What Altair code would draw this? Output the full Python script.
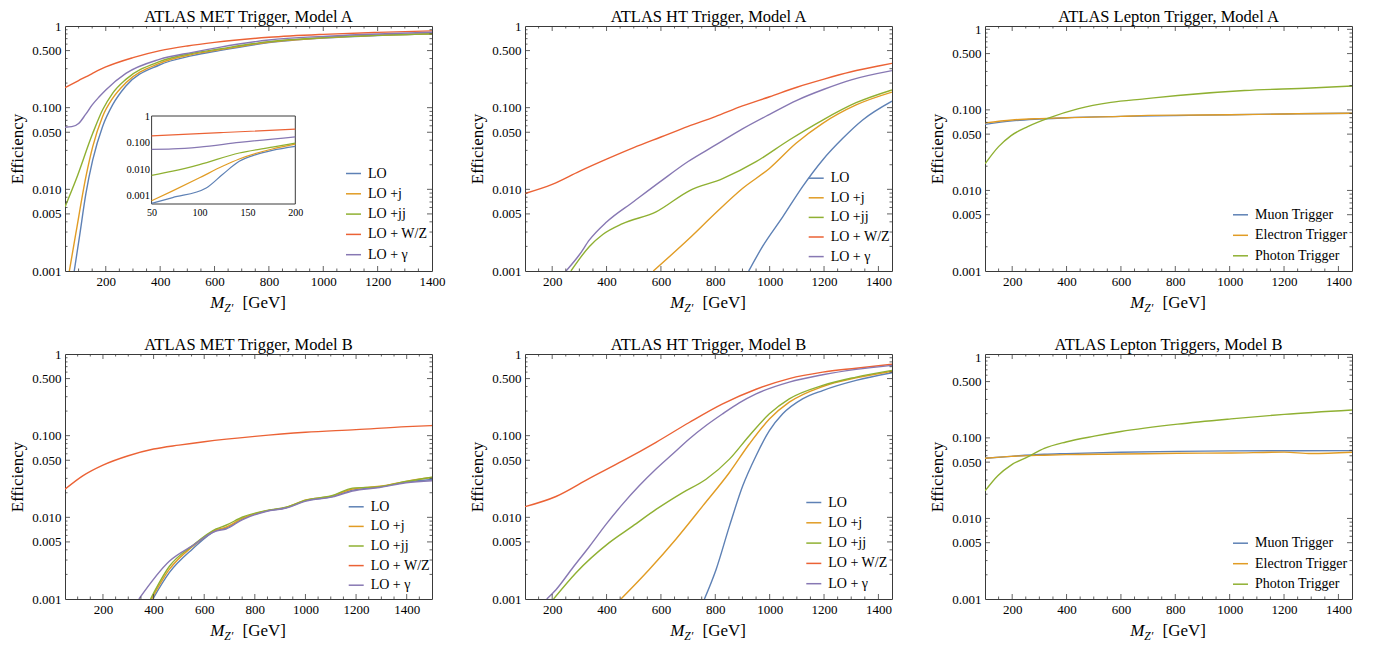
import altair as alt
import pandas as pd

FONT = "Liberation Serif"
W, H = 367, 245
FRAME = "#3a3a3a"

SERIES5 = ["LO", "LO +j", "LO +jj", "LO + W/Z", "LO + γ"]
COLORS5 = ["#5E81B5", "#E19C24", "#8FB032", "#EB6235", "#8778B3"]
SERIES3 = ["Muon Trigger", "Electron Trigger", "Photon Trigger"]
COLORS3 = ["#5E81B5", "#E19C24", "#8FB032"]

Y_LABELS = [0.001, 0.005, 0.01, 0.05, 0.1, 0.5, 1]
Y_MINOR = [0.002, 0.003, 0.004, 0.006, 0.007, 0.008, 0.009,
           0.02, 0.03, 0.04, 0.06, 0.07, 0.08, 0.09,
           0.2, 0.3, 0.4, 0.6, 0.7, 0.8, 0.9]
X_LABELS = [200, 400, 600, 800, 1000, 1200, 1400]
X_MINOR = [50, 100, 150, 250, 300, 350, 450, 500, 550, 650, 700, 750, 850, 900,
           950, 1050, 1100, 1150, 1250, 1300, 1350, 1450, 1500]
INSET_X_LABELS = [50, 100, 150, 200]
INSET_Y_LABELS = [0.001, 0.01, 0.1, 1]

# ---------------- MET trigger, model A ----------------
META_LO_M = [84, 103, 127, 152, 188, 225, 274, 397, 519, 617, 800, 1000, 1200, 1400]
META_LO_E = [0.001, 0.0026, 0.0089, 0.0229, 0.0585, 0.108, 0.184, 0.333, 0.433, 0.50, 0.625, 0.71, 0.765, 0.80]
META_J_M = [66, 90, 127, 152, 188, 225, 274, 397, 519, 617, 800, 1000, 1200, 1400]
META_J_E = [0.001, 0.0029, 0.0143, 0.0333, 0.0776, 0.13, 0.202, 0.349, 0.45, 0.51, 0.636, 0.715, 0.77, 0.805]
META_JJ_M = [50, 90, 152, 188, 225, 274, 397, 519, 617, 800, 1000, 1200, 1400]
META_JJ_E = [0.0061, 0.013, 0.0485, 0.0936, 0.15, 0.222, 0.366, 0.463, 0.523, 0.643, 0.72, 0.77, 0.805]
META_WZ_M = [50, 100, 150, 200, 300, 400, 500, 600, 800, 1000, 1200, 1400]
META_WZ_E = [0.176, 0.215, 0.262, 0.315, 0.41, 0.50, 0.57, 0.63, 0.727, 0.79, 0.836, 0.872]
META_G_M = [50, 75, 100, 125, 150, 175, 200, 274, 397, 519, 617, 800, 1000, 1200, 1400]
META_G_E = [0.0575, 0.0585, 0.064, 0.082, 0.108, 0.135, 0.165, 0.263, 0.39, 0.476, 0.548, 0.674, 0.747, 0.798, 0.84]

# inset of MET, model A (50-200 GeV)
INS_LO_M = [50, 72, 107, 124, 141.5, 159, 176, 200]
INS_LO_E = [0.00053, 0.00087, 0.0020, 0.0064, 0.020, 0.0355, 0.051, 0.072]
INS_J_M = [50, 72, 100, 124, 141.5, 176, 200]
INS_J_E = [0.00066, 0.00155, 0.0048, 0.013, 0.0245, 0.058, 0.088]
INS_JJ_M = [50, 72, 100, 141.5, 176, 200]
INS_JJ_E = [0.0059, 0.0085, 0.015, 0.041, 0.068, 0.096]
INS_WZ_M = [50, 125, 200]
INS_WZ_E = [0.18, 0.24, 0.32]
INS_G_M = [50, 72, 100, 141.5, 200]
INS_G_E = [0.056, 0.058, 0.068, 0.102, 0.166]

# ---------------- HT trigger, model A ----------------
HTA_LO_M = [923, 974, 1048, 1121, 1195, 1269, 1342, 1450]
HTA_LO_E = [0.001, 0.002, 0.0046, 0.0108, 0.0229, 0.0421, 0.0706, 0.12]
HTA_J_M = [572, 704, 803, 901, 999, 1097, 1195, 1318, 1450]
HTA_J_E = [0.001, 0.0025, 0.0052, 0.0103, 0.018, 0.0366, 0.0643, 0.108, 0.155]
HTA_JJ_M = [269, 337, 386, 459, 582, 704, 827, 950, 1072, 1195, 1318, 1450]
HTA_JJ_E = [0.001, 0.002, 0.0028, 0.0038, 0.0053, 0.0096, 0.0135, 0.0218, 0.0402, 0.0706, 0.115, 0.165]
HTA_WZ_M = [100, 200, 300, 400, 500, 600, 700, 800, 900, 1000, 1100, 1200, 1300, 1400, 1450]
HTA_WZ_E = [0.0089, 0.0115, 0.0166, 0.0234, 0.0324, 0.0437, 0.0589, 0.0776, 0.105, 0.136, 0.178, 0.224,
            0.275, 0.324, 0.349]
HTA_G_M = [251, 300, 337, 400, 500, 600, 700, 800, 900, 1000, 1100, 1200, 1300, 1450]
HTA_G_E = [0.001, 0.00158, 0.0024, 0.00398, 0.0071, 0.0126, 0.0219, 0.0347, 0.055, 0.083, 0.123, 0.168,
           0.219, 0.284]

# ---------------- Lepton triggers, model A ----------------
LEPA_MU_M = [100, 200, 300, 400, 600, 800, 1000, 1200, 1450]
LEPA_MU_E = [0.066, 0.073, 0.077, 0.080, 0.083, 0.085, 0.087, 0.089, 0.091]
LEPA_EL_M = [100, 200, 300, 400, 600, 700, 800, 1000, 1200, 1450]
LEPA_EL_E = [0.069, 0.075, 0.078, 0.080, 0.083, 0.0855, 0.086, 0.087, 0.089, 0.091]
LEPA_PH_M = [100, 150, 196, 257, 336, 441, 563, 686, 809, 1054, 1299, 1450]
LEPA_PH_E = [0.0214, 0.035, 0.048, 0.062, 0.0796, 0.103, 0.124, 0.137, 0.151, 0.174, 0.187, 0.198]

# ---------------- MET trigger, model B ----------------
METB_LO_M = [397, 462, 554, 647, 686, 752, 844, 923, 1002, 1107, 1186, 1293, 1397, 1500]
METB_LO_E = [0.001, 0.0021, 0.0041, 0.0069, 0.0074, 0.0096, 0.0119, 0.0131, 0.016, 0.018, 0.0215, 0.0235, 0.027, 0.029]
METB_J_M = [392, 462, 554, 647, 686, 752, 844, 923, 1002, 1107, 1186, 1293, 1397, 1500]
METB_J_E = [0.001, 0.0023, 0.0044, 0.0070, 0.0076, 0.0098, 0.0120, 0.0132, 0.0163, 0.0183, 0.0222, 0.024, 0.0276, 0.0307]
METB_JJ_M = [388, 462, 554, 647, 686, 752, 844, 923, 1002, 1107, 1186, 1293, 1397, 1500]
METB_JJ_E = [0.001, 0.0025, 0.0045, 0.0072, 0.0080, 0.0101, 0.0121, 0.0133, 0.0162, 0.0185, 0.0228, 0.0238, 0.0275, 0.031]
METB_WZ_M = [50, 120, 200, 300, 400, 500, 600, 800, 1000, 1200, 1400, 1500]
METB_WZ_E = [0.0221, 0.0322, 0.0436, 0.0568, 0.0686, 0.0767, 0.0844, 0.098, 0.11, 0.1185, 0.129, 0.133]
METB_G_M = [342, 462, 554, 647, 686, 752, 844, 923, 1002, 1107, 1186, 1293, 1397, 1500]
METB_G_E = [0.001, 0.0029, 0.0045, 0.0068, 0.0072, 0.0094, 0.0118, 0.0130, 0.0158, 0.0178, 0.021, 0.0232, 0.0265, 0.028]

# ---------------- HT trigger, model B ----------------
HTB_LO_M = [760, 803, 852, 901, 950, 999, 1048, 1121, 1195, 1318, 1450]
HTB_LO_E = [0.001, 0.0023, 0.0078, 0.0243, 0.0568, 0.115, 0.185, 0.282, 0.357, 0.475, 0.589]
HTB_J_M = [453, 557, 655, 754, 852, 925, 999, 1072, 1195, 1318, 1450]
HTB_J_E = [0.001, 0.0023, 0.0054, 0.0138, 0.0354, 0.079, 0.16, 0.257, 0.40, 0.51, 0.615]
HTB_JJ_M = [205, 288, 410, 496, 582, 680, 766, 852, 925, 999, 1072, 1195, 1318, 1450]
HTB_JJ_E = [0.001, 0.0021, 0.0049, 0.0078, 0.0125, 0.0201, 0.0293, 0.0516, 0.1, 0.185, 0.282, 0.412, 0.521, 0.63]
HTB_WZ_M = [100, 214, 337, 459, 582, 704, 827, 950, 1072, 1195, 1318, 1450]
HTB_WZ_E = [0.0135, 0.018, 0.030, 0.049, 0.083, 0.145, 0.245, 0.37, 0.50, 0.60, 0.67, 0.75]
HTB_G_M = [180, 214, 275, 337, 398, 459, 520, 582, 643, 704, 766, 827, 888, 950, 1072, 1195, 1318, 1450]
HTB_G_E = [0.001, 0.0013, 0.0024, 0.0044, 0.0082, 0.0145, 0.0243, 0.039, 0.0595, 0.091, 0.133, 0.185,
           0.252, 0.325, 0.453, 0.557, 0.648, 0.726]

# ---------------- Lepton triggers, model B ----------------
LEPB_MU_M = [100, 196, 318, 398, 600, 809, 1005, 1450]
LEPB_MU_E = [0.0558, 0.059, 0.0626, 0.0638, 0.0663, 0.068, 0.0689, 0.0695]
LEPB_EL_M = [100, 196, 318, 398, 600, 809, 1005, 1201, 1300, 1450]
LEPB_EL_E = [0.0558, 0.059, 0.061, 0.062, 0.063, 0.0645, 0.065, 0.0665, 0.064, 0.0663]
LEPB_PH_M = [100, 147, 196, 257, 318, 398, 502, 600, 809, 1005, 1201, 1450]
LEPB_PH_E = [0.022, 0.034, 0.046, 0.058, 0.074, 0.089, 0.105, 0.12, 0.148, 0.172, 0.196, 0.222]

LABEL_EXPR = "datum.value >= 0.999 ? '1' : format(datum.value, '.3f')"


def series_frame(names, pairs):
    rows = []
    for name, (ms, es) in zip(names, pairs):
        for m, e in zip(ms, es):
            rows.append({"M": m, "eff": e, "series": name})
    return pd.DataFrame(rows)


def tick_layers(xs, ys, xdom, ydom):
    # inward frame ticks (no axis=None here: it would disable the shared axis)
    layers = []
    for vals, ln in ((Y_LABELS, 5), (Y_MINOR, 2.5)):
        d = pd.DataFrame({"eff": [v for v in vals if ydom[0] < v < ydom[1]]})
        for x0, x1 in ((0, ln), (W, W - ln)):
            layers.append(alt.Chart(d).mark_rule(color=FRAME, strokeWidth=0.8).encode(
                y=alt.Y("eff:Q", scale=ys), x=alt.value(x0), x2=alt.value(x1)))
    for vals, ln in ((X_LABELS, 5), (X_MINOR, 2.5)):
        d = pd.DataFrame({"M": [v for v in vals if xdom[0] < v < xdom[1]]})
        for y0, y1 in ((H, H - ln), (0, ln)):
            layers.append(alt.Chart(d).mark_rule(color=FRAME, strokeWidth=0.8).encode(
                x=alt.X("M:Q", scale=xs), y=alt.value(y0), y2=alt.value(y1)))
    return layers


def xtitle_layers():
    parts = [("M", 145.3, H + 37, 17, "italic"),
             ("Z′", 159.3, H + 40.5, 11.5, "italic"),
             ("[GeV]", 177.5, H + 37, 17, "normal")]
    out = []
    for txt, x, y, size, style in parts:
        out.append(alt.Chart(pd.DataFrame({"t": [txt]})).mark_text(
            font=FONT, fontSize=size, fontStyle=style, align="left", baseline="alphabetic",
            color="black").encode(text="t:N", x=alt.value(x), y=alt.value(y)))
    return out


def panel(title, df, names, colors, xdom, ydom, leg_x, leg_y, row_pad, title_off, inset_df=None):
    xs = alt.Scale(domain=xdom, nice=False, zero=False)
    ys = alt.Scale(type="log", domain=ydom, nice=False)
    cscale = alt.Scale(domain=names, range=colors)
    lines = alt.Chart(df).mark_line(strokeWidth=1.4, interpolate="monotone", clip=True).encode(
        x=alt.X("M:Q", scale=xs, axis=alt.Axis(values=X_LABELS, format="d", labelFlush=False, labelPadding=4,
                                               labelOverlap=False, title=None)),
        y=alt.Y("eff:Q", scale=ys, axis=alt.Axis(values=Y_LABELS, labelExpr=LABEL_EXPR, labelPadding=4,
                                                 labelOverlap=False, title="Efficiency", titleX=-48,
                                                 titleY=H / 2, titleAngle=-90, titleAlign="center",
                                                 titleBaseline="middle")),
        color=alt.Color("series:N", scale=cscale, sort=names, legend=alt.Legend(
            title=None, orient="none", legendX=leg_x, legendY=leg_y, symbolType="stroke",
            symbolSize=225, symbolStrokeWidth=1.5, labelFont=FONT, labelFontSize=14,
            labelColor="black", rowPadding=row_pad, padding=0, labelOffset=6)),
    )
    main = alt.layer(lines, *tick_layers(xs, ys, xdom, ydom), *xtitle_layers())
    if inset_df is not None:
        ixs = alt.Scale(domain=[50, 200], range=[86.6, 230.3], nice=False, zero=False)
        iys = alt.Scale(type="log", domain=[0.0005, 1], range=[178, 90], nice=False)
        box = alt.Chart(pd.DataFrame({"M": [50], "M2": [200], "eff": [0.0005], "eff2": [1.0]})).mark_rect(
            fill="white", stroke=FRAME, strokeWidth=1).encode(
            x=alt.X("M:Q", scale=ixs, axis=alt.Axis(orient="bottom", offset=-(H - 178),
                                                     values=INSET_X_LABELS, labelFlush=False,
                                                     labelFontSize=10, labelPadding=3, title=None,
                                                     labelOverlap=False)),
            x2="M2:Q",
            y=alt.Y("eff:Q", scale=iys, axis=alt.Axis(orient="left", offset=-86.6, values=INSET_Y_LABELS,
                                                       labelExpr=LABEL_EXPR, labelFontSize=10.5,
                                                       labelPadding=2, title=None, labelOverlap=False)),
            y2="eff2:Q",
        )
        ilines = alt.Chart(inset_df).mark_line(strokeWidth=1.2, interpolate="monotone").encode(
            x=alt.X("M:Q", scale=ixs),
            y=alt.Y("eff:Q", scale=iys),
            color=alt.Color("series:N", scale=cscale, sort=names, legend=None),
        )
        inset = alt.layer(box, ilines)
        ch = alt.layer(main, inset).resolve_scale(x="independent", y="independent")
    else:
        ch = main
    return ch.properties(
        width=W, height=H,
        title=alt.TitleParams(title, font=FONT, fontSize=16.5, fontWeight="normal", color="black",
                              anchor="middle", frame="group", offset=title_off),
    )


df_meta = series_frame(SERIES5, [(META_LO_M, META_LO_E), (META_J_M, META_J_E), (META_JJ_M, META_JJ_E),
                                 (META_WZ_M, META_WZ_E), (META_G_M, META_G_E)])
df_ins = series_frame(SERIES5, [(INS_LO_M, INS_LO_E), (INS_J_M, INS_J_E), (INS_JJ_M, INS_JJ_E),
                                (INS_WZ_M, INS_WZ_E), (INS_G_M, INS_G_E)])
df_hta = series_frame(SERIES5, [(HTA_LO_M, HTA_LO_E), (HTA_J_M, HTA_J_E), (HTA_JJ_M, HTA_JJ_E),
                                (HTA_WZ_M, HTA_WZ_E), (HTA_G_M, HTA_G_E)])
df_lepa = series_frame(SERIES3, [(LEPA_MU_M, LEPA_MU_E), (LEPA_EL_M, LEPA_EL_E), (LEPA_PH_M, LEPA_PH_E)])
df_metb = series_frame(SERIES5, [(METB_LO_M, METB_LO_E), (METB_J_M, METB_J_E), (METB_JJ_M, METB_JJ_E),
                                 (METB_WZ_M, METB_WZ_E), (METB_G_M, METB_G_E)])
df_htb = series_frame(SERIES5, [(HTB_LO_M, HTB_LO_E), (HTB_J_M, HTB_J_E), (HTB_JJ_M, HTB_JJ_E),
                                (HTB_WZ_M, HTB_WZ_E), (HTB_G_M, HTB_G_E)])
df_lepb = series_frame(SERIES3, [(LEPB_MU_M, LEPB_MU_E), (LEPB_EL_M, LEPB_EL_E), (LEPB_PH_M, LEPB_PH_E)])

p1 = panel("ATLAS MET Trigger, Model A", df_meta, SERIES5, COLORS5, [50, 1400], [0.001, 1], 280, 139, 4.3, -5, df_ins)
p2 = panel("ATLAS HT Trigger, Model A", df_hta, SERIES5, COLORS5, [100, 1450], [0.001, 1], 282.7, 143.7, 3.6, -5)
p3 = panel("ATLAS Lepton Trigger, Model A", df_lepa, SERIES3, COLORS3, [100, 1450], [0.001, 1.1], 247, 180.3, 4.5, -1.7)
p4 = panel("ATLAS MET Trigger, Model B", df_metb, SERIES5, COLORS5, [50, 1500], [0.001, 1], 282.7, 144.3, 3.6, -5)
p5 = panel("ATLAS HT Trigger, Model B", df_htb, SERIES5, COLORS5, [100, 1450], [0.001, 1], 280.3, 140, 4.3, -5)
p6 = panel("ATLAS Lepton Triggers, Model B", df_lepb, SERIES3, COLORS3, [100, 1450], [0.001, 1.1], 247, 180.7, 4.5, -1.7)

chart = alt.concat(p1, p2, p3, p4, p5, p6, columns=3, spacing={"row": 83, "column": 93}, bounds="flush").resolve_scale(
    color="independent"
).properties(
    padding={"left": -1, "top": 0, "right": 0, "bottom": 0}, background="white"
).configure_axis(
    labelFont=FONT, titleFont=FONT, labelColor="black", titleColor="black", labelFontSize=13,
    titleFontSize=17, titleFontWeight="normal", domain=False, ticks=False, grid=False
).configure_view(
    stroke=FRAME, strokeWidth=1
)

chart.save("out.html", embed_options={"renderer": "svg", "actions": False})
